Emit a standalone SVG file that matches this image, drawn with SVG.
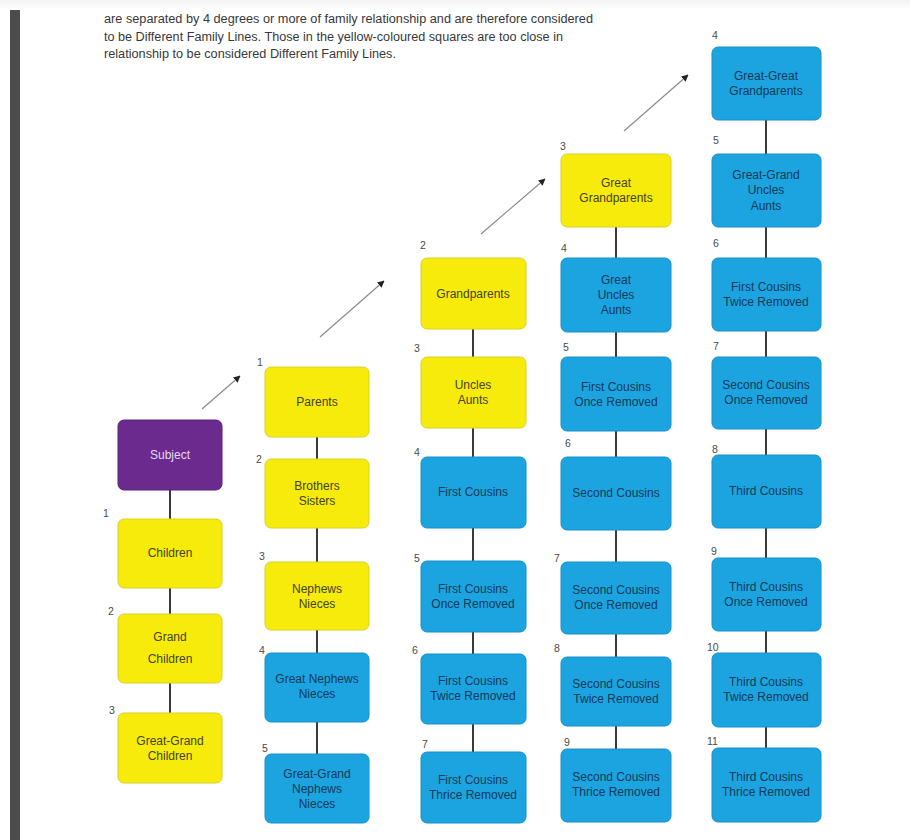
<svg xmlns="http://www.w3.org/2000/svg" width="910" height="840" viewBox="0 0 910 840">
<defs>
<style>
.bg{fill:#ffffff}
.y rect{fill:#F6EB0A;stroke:#DCD02A;stroke-width:1}
.b rect{fill:#1CA4E0;stroke:#1790C6;stroke-width:1}
.p rect{fill:#6B2B8E;stroke:#5A2278;stroke-width:1}
.y text{fill:#45421C}
.b text{fill:#123A58}
.p text{fill:#E6D8F2}
.node text{font-family:"Liberation Sans",Arial,sans-serif;font-size:12px;text-anchor:middle;dominant-baseline:central}
.num{font-family:"Liberation Sans",Arial,sans-serif;font-size:10.5px;fill:#4A4A4A}
.intro{font-family:"Liberation Sans",Arial,sans-serif;font-size:12px;fill:#383838}
.conn line{stroke:#3A3A3A;stroke-width:2}
.arr line{stroke:#8A8A8A;stroke-width:1.2}
</style>
<marker id="ah" viewBox="0 0 10 10" refX="9" refY="5" markerWidth="7" markerHeight="7" markerUnits="userSpaceOnUse" orient="auto">
<path d="M0,0 L10,5 L0,10 z" fill="#222222"/>
</marker>
<linearGradient id="topg" x1="0" y1="0" x2="0" y2="1">
<stop offset="0" stop-color="#f4f4f4"/>
<stop offset="1" stop-color="#ffffff"/>
</linearGradient>
</defs>
<rect class="bg" x="0" y="0" width="910" height="840"/>
<rect x="0" y="0" width="910" height="10" fill="url(#topg)"/>
<rect x="10" y="10" width="10" height="830" fill="#4A4C4E"/>

<g id="intro">
<text class="intro" x="104" y="23" textLength="489" lengthAdjust="spacingAndGlyphs">are separated by 4 degrees or more of family relationship and are therefore considered</text>
<text class="intro" x="104" y="41" textLength="459" lengthAdjust="spacingAndGlyphs">to be Different Family Lines. Those in the yellow-coloured squares are too close in</text>
<text class="intro" x="104" y="58" textLength="292" lengthAdjust="spacingAndGlyphs">relationship to be considered Different Family Lines.</text>
</g>

<g id="connectors">
<g class="conn">
<line x1="170" y1="490" x2="170" y2="519"/>
<line x1="170" y1="588" x2="170" y2="614"/>
<line x1="170" y1="683" x2="170" y2="713"/>
<line x1="317" y1="437" x2="317" y2="459"/>
<line x1="317" y1="528" x2="317" y2="562"/>
<line x1="317" y1="630" x2="317" y2="653"/>
<line x1="317" y1="722" x2="317" y2="754"/>
<line x1="473" y1="329" x2="473" y2="357"/>
<line x1="473" y1="428" x2="473" y2="457"/>
<line x1="473" y1="528" x2="473" y2="561"/>
<line x1="473" y1="632" x2="473" y2="654"/>
<line x1="473" y1="724" x2="473" y2="752"/>
<line x1="616" y1="227" x2="616" y2="258"/>
<line x1="616" y1="332" x2="616" y2="357"/>
<line x1="616" y1="431" x2="616" y2="457"/>
<line x1="616" y1="530" x2="616" y2="562"/>
<line x1="616" y1="634" x2="616" y2="657"/>
<line x1="616" y1="726" x2="616" y2="749"/>
<line x1="766" y1="120" x2="766" y2="154"/>
<line x1="766" y1="227" x2="766" y2="258"/>
<line x1="766" y1="331" x2="766" y2="357"/>
<line x1="766" y1="429" x2="766" y2="455"/>
<line x1="766" y1="528" x2="766" y2="558"/>
<line x1="766" y1="631" x2="766" y2="653"/>
<line x1="766" y1="727" x2="766" y2="748"/>
</g>
<g class="arr">
<line x1="202" y1="409" x2="240" y2="376" marker-end="url(#ah)"/>
<line x1="320" y1="337" x2="384" y2="281" marker-end="url(#ah)"/>
<line x1="481" y1="234" x2="545" y2="179" marker-end="url(#ah)"/>
<line x1="624" y1="131" x2="688" y2="75" marker-end="url(#ah)"/>
</g>
</g>

<!-- Column 1 -->
<g id="subject" class="node p"><rect x="118" y="420" width="104" height="70" rx="6"/><text x="170" y="455">Subject</text></g>
<g id="children" class="node y"><rect x="118" y="519" width="104" height="69" rx="6"/><text x="170" y="553">Children</text></g>
<g id="grandchildren" class="node y"><rect x="118" y="614" width="104" height="69" rx="6"/><text x="170" y="637">Grand</text><text x="170" y="659">Children</text></g>
<g id="greatgrandchildren" class="node y"><rect x="118" y="713" width="104" height="70" rx="6"/><text x="170" y="741">Great-Grand</text><text x="170" y="756">Children</text></g>

<!-- Column 2 -->
<g id="parents" class="node y"><rect x="265" y="367" width="104" height="70" rx="6"/><text x="317" y="402">Parents</text></g>
<g id="siblings" class="node y"><rect x="265" y="459" width="104" height="69" rx="6"/><text x="317" y="486">Brothers</text><text x="317" y="501">Sisters</text></g>
<g id="nephews" class="node y"><rect x="265" y="562" width="104" height="68" rx="6"/><text x="317" y="589">Nephews</text><text x="317" y="604">Nieces</text></g>
<g id="greatnephews" class="node b"><rect x="265" y="653" width="104" height="69" rx="6"/><text x="317" y="679">Great Nephews</text><text x="317" y="694">Nieces</text></g>
<g id="greatgrandnephews" class="node b"><rect x="265" y="754" width="104" height="69" rx="6"/><text x="317" y="774">Great-Grand</text><text x="317" y="789">Nephews</text><text x="317" y="804">Nieces</text></g>

<!-- Column 3 -->
<g id="grandparents" class="node y"><rect x="421" y="258" width="105" height="71" rx="6"/><text x="473" y="294">Grandparents</text></g>
<g id="unclesaunts" class="node y"><rect x="421" y="357" width="105" height="71" rx="6"/><text x="473" y="385">Uncles</text><text x="473" y="400">Aunts</text></g>
<g id="firstcousins" class="node b"><rect x="421" y="457" width="105" height="71" rx="6"/><text x="473" y="492">First Cousins</text></g>
<g id="fc1r" class="node b"><rect x="421" y="561" width="105" height="71" rx="6"/><text x="473" y="589">First Cousins</text><text x="473" y="604">Once Removed</text></g>
<g id="fc2r" class="node b"><rect x="421" y="654" width="105" height="70" rx="6"/><text x="473" y="681">First Cousins</text><text x="473" y="696">Twice Removed</text></g>
<g id="fc3r" class="node b"><rect x="421" y="752" width="105" height="71" rx="6"/><text x="473" y="780">First Cousins</text><text x="473" y="795">Thrice Removed</text></g>

<!-- Column 4 -->
<g id="greatgrandparents" class="node y"><rect x="561" y="154" width="110" height="73" rx="6"/><text x="616" y="183">Great</text><text x="616" y="198">Grandparents</text></g>
<g id="greatuncles" class="node b"><rect x="561" y="258" width="110" height="74" rx="6"/><text x="616" y="280">Great</text><text x="616" y="295">Uncles</text><text x="616" y="310">Aunts</text></g>
<g id="c4fc1r" class="node b"><rect x="561" y="357" width="110" height="74" rx="6"/><text x="616" y="387">First Cousins</text><text x="616" y="402">Once Removed</text></g>
<g id="secondcousins" class="node b"><rect x="561" y="457" width="110" height="73" rx="6"/><text x="616" y="493">Second Cousins</text></g>
<g id="sc1r" class="node b"><rect x="561" y="562" width="110" height="72" rx="6"/><text x="616" y="590">Second Cousins</text><text x="616" y="605">Once Removed</text></g>
<g id="sc2r" class="node b"><rect x="561" y="657" width="110" height="69" rx="6"/><text x="616" y="684">Second Cousins</text><text x="616" y="699">Twice Removed</text></g>
<g id="sc3r" class="node b"><rect x="561" y="749" width="110" height="73" rx="6"/><text x="616" y="777">Second Cousins</text><text x="616" y="792">Thrice Removed</text></g>

<!-- Column 5 -->
<g id="ggparents" class="node b"><rect x="712" y="47" width="109" height="73" rx="6"/><text x="766" y="76">Great-Great</text><text x="766" y="91">Grandparents</text></g>
<g id="gguncles" class="node b"><rect x="712" y="154" width="109" height="73" rx="6"/><text x="766" y="175">Great-Grand</text><text x="766" y="190">Uncles</text><text x="766" y="206">Aunts</text></g>
<g id="c5fc2r" class="node b"><rect x="712" y="258" width="109" height="73" rx="6"/><text x="766" y="287">First Cousins</text><text x="766" y="302">Twice Removed</text></g>
<g id="c5sc1r" class="node b"><rect x="712" y="357" width="109" height="72" rx="6"/><text x="766" y="385">Second Cousins</text><text x="766" y="400">Once Removed</text></g>
<g id="thirdcousins" class="node b"><rect x="712" y="455" width="109" height="73" rx="6"/><text x="766" y="491">Third Cousins</text></g>
<g id="tc1r" class="node b"><rect x="712" y="558" width="109" height="73" rx="6"/><text x="766" y="587">Third Cousins</text><text x="766" y="602">Once Removed</text></g>
<g id="tc2r" class="node b"><rect x="712" y="653" width="109" height="74" rx="6"/><text x="766" y="682">Third Cousins</text><text x="766" y="697">Twice Removed</text></g>
<g id="tc3r" class="node b"><rect x="712" y="748" width="109" height="74" rx="6"/><text x="766" y="777">Third Cousins</text><text x="766" y="792">Thrice Removed</text></g>

<g id="degree-numbers">
<text class="num" x="103" y="517">1</text>
<text class="num" x="108" y="615">2</text>
<text class="num" x="109" y="714">3</text>
<text class="num" x="257" y="366">1</text>
<text class="num" x="256" y="463">2</text>
<text class="num" x="259" y="560">3</text>
<text class="num" x="259" y="654">4</text>
<text class="num" x="262" y="752">5</text>
<text class="num" x="420" y="249">2</text>
<text class="num" x="414" y="352">3</text>
<text class="num" x="414" y="456">4</text>
<text class="num" x="414" y="562">5</text>
<text class="num" x="412" y="654">6</text>
<text class="num" x="422" y="748">7</text>
<text class="num" x="560" y="150">3</text>
<text class="num" x="561" y="252">4</text>
<text class="num" x="563" y="351">5</text>
<text class="num" x="565" y="447">6</text>
<text class="num" x="554" y="562">7</text>
<text class="num" x="554" y="652">8</text>
<text class="num" x="564" y="746">9</text>
<text class="num" x="712" y="39">4</text>
<text class="num" x="713" y="144">5</text>
<text class="num" x="713" y="247">6</text>
<text class="num" x="713" y="350">7</text>
<text class="num" x="712" y="453">8</text>
<text class="num" x="711" y="555">9</text>
<text class="num" x="707" y="651">10</text>
<text class="num" x="707" y="745">11</text>
</g>
</svg>
